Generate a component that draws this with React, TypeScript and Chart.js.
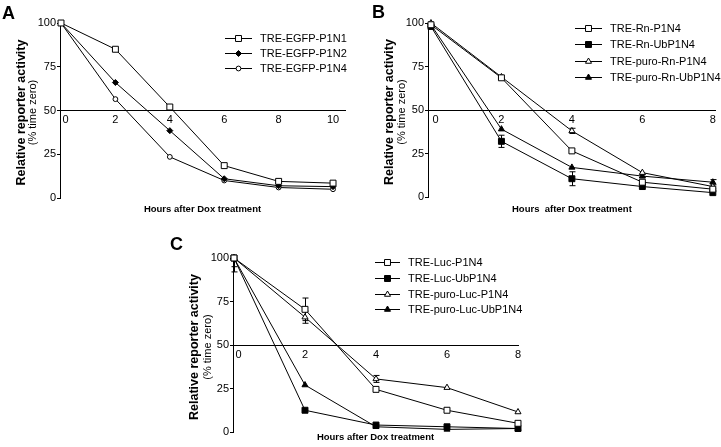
import React, { useEffect, useRef } from 'react';
import { Chart, registerables } from 'chart.js';

Chart.register(...registerables);

const FONT = 'Arial, "Liberation Sans", Helvetica, sans-serif';

// ---------- shared ----------
const yTicks = [0, 25, 50, 75, 100];
const xTitle = 'Hours after Dox treatment';
const xTitleB = 'Hours  after Dox treatment';
const yTitle1 = 'Relative reporter activity';
const yTitle2 = '(% time zero)';

// ---------- Panel A ----------
const hoursA = [0, 2, 4, 6, 8, 10];
const xTicksA = [0, 2, 4, 6, 8, 10];
const egfpP1N1 = [100, 85, 52, 18.5, 9.5, 8.5];
const egfpP1N2 = [100, 66, 38.5, 11, 7, 6.5];
const egfpP1N4 = [100, 56.5, 23.5, 10, 6, 5];

// ---------- Panel B ----------
const hoursB = [0, 2, 4, 6, 8];
const xTicksB = [0, 2, 4, 6, 8];
const rnP1N4 = [99, 68.5, 26.5, 8.5, 4.5];
const rnUbP1N4 = [98, 32, 10.5, 6, 2.5];
const puroRnP1N4 = [100, 69, 38, 14, 6];
const puroRnUbP1N4 = [99, 39, 17, 12, 8.5];
const rnUbP1N4Err = [0, 3.5, 4, 0, 0];
const puroRnP1N4Err = [0, 0, 1.5, 0, 0];
const puroRnUbP1N4Err = [0, 0, 0, 1, 1.5];

// ---------- Panel C ----------
const hoursC = [0, 2, 4, 6, 8];
const xTicksC = [0, 2, 4, 6, 8];
const lucP1N4 = [100, 70.5, 24.5, 12.5, 5];
const lucUbP1N4 = [100, 12.5, 4, 3, 2];
const puroLucP1N4 = [100, 66, 30.5, 25.5, 11.5];
const puroLucUbP1N4 = [100, 27, 3, 1.5, 2];
const lucP1N4Err = [5, 6.5, 0, 0, 0];
const puroLucP1N4Err = [8, 3.5, 2, 0, 0];

type Style = 'rect' | 'circle' | 'triangle' | 'rectRot';
interface SeriesDef {
  label: string;
  values: number[];
  errors?: number[];
  style: Style;
  radius: number;
  filled: boolean;
}
interface PanelDef {
  letter: string;
  letterPos: [number, number];
  box: [number, number, number, number];
  area: { left: number; top: number; bottom: number; right: number };
  hours: number[];
  xTicks: number[];
  xMin: number;
  xMax: number;
  series: SeriesDef[];
  legend: { x1: number; x2: number; tx: number; rows: number[]; size: number };
  yTitleX: [number, number];
  xTitleY: number;
  xTitleText: string;
}

const panels: PanelDef[] = [
  {
    letter: 'A',
    letterPos: [2, 4],
    box: [0, 0, 360, 220],
    area: { left: 60, top: 23, bottom: 198, right: 345 },
    hours: hoursA,
    xTicks: xTicksA,
    xMin: -0.037,
    xMax: 10.44,
    series: [
      { label: 'TRE-EGFP-P1N1', values: egfpP1N1, style: 'rect', radius: 4.2, filled: false },
      { label: 'TRE-EGFP-P1N2', values: egfpP1N2, style: 'rectRot', radius: 3, filled: true },
      { label: 'TRE-EGFP-P1N4', values: egfpP1N4, style: 'circle', radius: 2.4, filled: false },
    ],
    legend: { x1: 225, x2: 252, tx: 260, rows: [38, 53, 68], size: 11 },
    yTitleX: [22, 33],
    xTitleY: 209,
    xTitleText: xTitle,
  },
  {
    letter: 'B',
    letterPos: [372, 3],
    box: [360, 0, 361, 220],
    area: { left: 68, top: 23, bottom: 197, right: 361 },
    hours: hoursB,
    xTicks: xTicksB,
    xMin: -0.084,
    xMax: 8.084,
    series: [
      { label: 'TRE-Rn-P1N4', values: rnP1N4, style: 'rect', radius: 4.2, filled: false },
      { label: 'TRE-Rn-UbP1N4', values: rnUbP1N4, errors: rnUbP1N4Err, style: 'rect', radius: 4.2, filled: true },
      { label: 'TRE-puro-Rn-P1N4', values: puroRnP1N4, errors: puroRnP1N4Err, style: 'triangle', radius: 3.5, filled: false },
      { label: 'TRE-puro-Rn-UbP1N4', values: puroRnUbP1N4, errors: puroRnUbP1N4Err, style: 'triangle', radius: 3.5, filled: true },
    ],
    legend: { x1: 215, x2: 242, tx: 250, rows: [28, 44, 61, 77], size: 11 },
    yTitleX: [30, 42],
    xTitleY: 209,
    xTitleText: xTitleB,
  },
  {
    letter: 'C',
    letterPos: [170, 235],
    box: [180, 220, 360, 227],
    area: { left: 53, top: 38, bottom: 212, right: 338 },
    hours: hoursC,
    xTicks: xTicksC,
    xMin: -0.028,
    xMax: 8,
    series: [
      { label: 'TRE-Luc-P1N4', values: lucP1N4, errors: lucP1N4Err, style: 'rect', radius: 4.2, filled: false },
      { label: 'TRE-Luc-UbP1N4', values: lucUbP1N4, style: 'rect', radius: 4.2, filled: true },
      { label: 'TRE-puro-Luc-P1N4', values: puroLucP1N4, errors: puroLucP1N4Err, style: 'triangle', radius: 3.5, filled: false },
      { label: 'TRE-puro-Luc-UbP1N4', values: puroLucUbP1N4, style: 'triangle', radius: 3.5, filled: true },
    ],
    legend: { x1: 195, x2: 220, tx: 228, rows: [42, 58, 74, 89], size: 11 },
    yTitleX: [15, 28],
    xTitleY: 217,
    xTitleText: xTitle,
  },
];

function drawMarker(ctx: CanvasRenderingContext2D, style: Style, x: number, y: number, r: number, filled: boolean) {
  ctx.beginPath();
  if (style === 'rect') {
    const s = Math.SQRT1_2 * r;
    ctx.rect(x - s, y - s, 2 * s, 2 * s);
  } else if (style === 'circle') {
    ctx.arc(x, y, r, 0, Math.PI * 2);
  } else if (style === 'triangle') {
    for (let k = 0; k < 3; k++) {
      const a = (k * 2 * Math.PI) / 3;
      const px = x + Math.sin(a) * r;
      const py = y - Math.cos(a) * r;
      if (k === 0) ctx.moveTo(px, py);
      else ctx.lineTo(px, py);
    }
    ctx.closePath();
  } else {
    ctx.moveTo(x - r, y);
    ctx.lineTo(x, y - r);
    ctx.lineTo(x + r, y);
    ctx.lineTo(x, y + r);
    ctx.closePath();
  }
  ctx.fillStyle = filled ? '#000' : '#fff';
  ctx.fill();
  ctx.strokeStyle = '#000';
  ctx.lineWidth = 1;
  ctx.stroke();
}

function Panel({ def }: { def: PanelDef }) {
  const ref = useRef<HTMLCanvasElement>(null);
  useEffect(() => {
    const canvas = ref.current!;
    const [, , w, h] = def.box;
    const decoPlugin = {
      id: 'deco',
      beforeDatasetsDraw(chart: any) {
        const ctx = chart.ctx as CanvasRenderingContext2D;
        const ys = chart.scales.y;
        const ca = chart.chartArea;
        ctx.save();
        ctx.beginPath();
        ctx.rect(ca.left - 20, ca.top, ca.right - ca.left + 40, ca.bottom - ca.top);
        ctx.clip();
        ctx.strokeStyle = '#000';
        ctx.lineWidth = 1;
        chart.data.datasets.forEach((ds: any, i: number) => {
          const errs: number[] | undefined = ds.errors;
          if (!errs) return;
          const meta = chart.getDatasetMeta(i);
          meta.data.forEach((pt: any, j: number) => {
            const e = errs[j];
            if (!e) return;
            const v = ds.data[j].y;
            const t = ys.getPixelForValue(v + e);
            const b = ys.getPixelForValue(v - e);
            const x = Math.round(pt.x) + 0.5;
            ctx.beginPath();
            ctx.moveTo(x, t);
            ctx.lineTo(x, b);
            ctx.moveTo(x - 3, t);
            ctx.lineTo(x + 3, t);
            ctx.moveTo(x - 3, b);
            ctx.lineTo(x + 3, b);
            ctx.stroke();
          });
        });
        ctx.restore();
      },
      afterDraw(chart: any) {
        const ctx = chart.ctx as CanvasRenderingContext2D;
        const ca = chart.chartArea;
        ctx.save();
        ctx.fillStyle = '#000';
        // y titles
        const cy = (ca.top + ca.bottom) / 2 + 2;
        ctx.save();
        ctx.translate(def.yTitleX[0], cy);
        ctx.rotate(-Math.PI / 2);
        ctx.textAlign = 'center';
        ctx.textBaseline = 'middle';
        ctx.font = `bold 12.5px ${FONT}`;
        ctx.fillText(yTitle1, 0, 0);
        ctx.restore();
        ctx.save();
        ctx.translate(def.yTitleX[1], cy);
        ctx.rotate(-Math.PI / 2);
        ctx.textAlign = 'center';
        ctx.textBaseline = 'middle';
        ctx.font = `11px ${FONT}`;
        ctx.fillText(yTitle2, 0, 0);
        ctx.restore();
        // x title
        ctx.textAlign = 'center';
        ctx.textBaseline = 'middle';
        ctx.font = `bold 9.5px ${FONT}`;
        ctx.fillText(def.xTitleText, (ca.left + ca.right) / 2, def.xTitleY);
        // legend
        const lg = def.legend;
        def.series.forEach((s, i) => {
          const y = lg.rows[i] + 0.5;
          ctx.beginPath();
          ctx.strokeStyle = '#000';
          ctx.lineWidth = 1;
          ctx.moveTo(lg.x1, y);
          ctx.lineTo(lg.x2, y);
          ctx.stroke();
          drawMarker(ctx, s.style, (lg.x1 + lg.x2) / 2, y, s.radius, s.filled);
          ctx.fillStyle = '#000';
          ctx.font = `${lg.size}px ${FONT}`;
          ctx.textAlign = 'left';
          ctx.textBaseline = 'middle';
          ctx.fillText(s.label, lg.tx, y);
        });
        ctx.restore();
      },
    };

    const chart = new Chart(canvas, {
      type: 'line',
      data: {
        datasets: def.series.map((s) => ({
          label: s.label,
          data: def.hours.map((hr, i) => ({ x: hr, y: s.values[i] })),
          errors: s.errors,
          borderColor: '#000',
          borderWidth: 1,
          pointStyle: s.style,
          pointRadius: s.radius,
          pointBorderWidth: 1,
          pointBorderColor: '#000',
          pointBackgroundColor: s.filled ? '#000' : '#fff',
          tension: 0,
          fill: false,
          clip: false,
        })) as any,
      },
      options: {
        animation: false,
        responsive: false,
        maintainAspectRatio: false,
        devicePixelRatio: 1,
        layout: {
          padding: {
            left: 0,
            top: def.area.top,
            bottom: h - def.area.bottom,
            right: w - def.area.right,
          },
        },
        plugins: { legend: { display: false }, tooltip: { enabled: false } },
        scales: {
          x: {
            type: 'linear',
            min: def.xMin,
            max: def.xMax,
            position: { y: 50 } as any,
            afterBuildTicks: (s: any) => {
              s.ticks = def.xTicks.map((v) => ({ value: v }));
            },
            afterFit: (s: any) => {
              s.paddingLeft = 0;
              s.paddingRight = 0;
            },
            grid: { display: false, drawTicks: false },
            border: { display: true, color: '#000', width: 1 },
            ticks: {
              padding: 3,
              color: '#000',
              maxRotation: 0,
              autoSkip: false,
              font: { family: FONT, size: 11 },
              callback: (v: any) => (v === 0 ? '   0' : String(v)),
            },
          },
          y: {
            type: 'linear',
            min: 0,
            max: 100,
            afterBuildTicks: (s: any) => {
              s.ticks = yTicks.map((v) => ({ value: v }));
            },
            afterFit: (s: any) => {
              s.width = def.area.left;
              s.paddingTop = 0;
              s.paddingBottom = 0;
            },
            grid: { drawOnChartArea: false, drawTicks: true, tickLength: 3, color: '#000' },
            border: { display: true, color: '#000', width: 1 },
            ticks: { padding: 1, color: '#000', font: { family: FONT, size: 11 } },
          },
        },
      },
      plugins: [decoPlugin],
    } as any);
    return () => chart.destroy();
  }, [def]);

  const [l, t, w, h] = def.box;
  return (
    <canvas
      ref={ref}
      width={w}
      height={h}
      style={{ position: 'absolute', left: l, top: t, width: w, height: h }}
    />
  );
}

export default function App() {
  return (
    <div
      style={{
        position: 'absolute',
        left: 0,
        top: 0,
        width: 721,
        height: 447,
        background: '#fff',
        overflow: 'hidden',
      }}
    >
      {panels.map((p) => (
        <Panel key={p.letter} def={p} />
      ))}
      {panels.map((p) => (
        <div
          key={'l' + p.letter}
          style={{
            position: 'absolute',
            left: p.letterPos[0],
            top: p.letterPos[1],
            font: `bold 18px ${FONT}`,
            lineHeight: '18px',
            color: '#000',
          }}
        >
          {p.letter}
        </div>
      ))}
    </div>
  );
}
